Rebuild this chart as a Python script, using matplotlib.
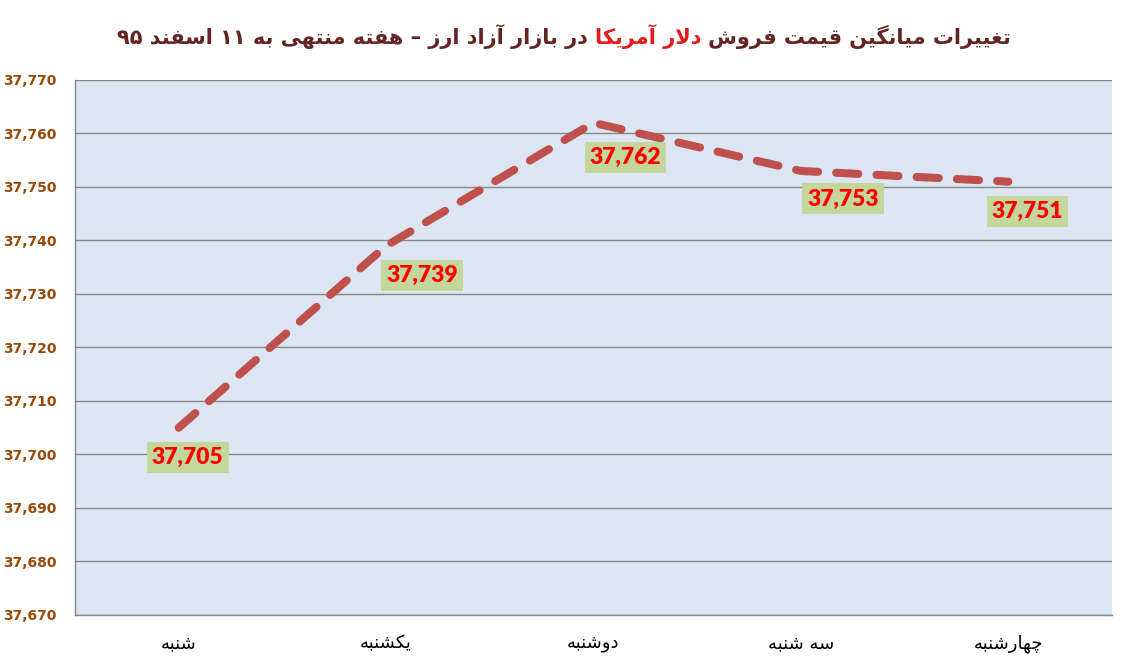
import matplotlib
matplotlib.use("Agg")
import matplotlib.pyplot as plt
from matplotlib.ticker import FuncFormatter, MultipleLocator
from matplotlib.offsetbox import TextArea, HPacker, AnchoredOffsetbox

# ── Données ───────────────────────────────────────────────────────────────────
days   = ["شنبه", "یکشنبه", "دوشنبه", "سه شنبه", "چهارشنبه"]
prices = [37705, 37739, 37762, 37753, 37751]

title_parts = ["تغییرات میانگین قیمت فروش",
               "دلار آمریکا",
               "در بازار آزاد ارز – هفته منتهی به ۱۱ اسفند ۹۵"]

# décalage des étiquettes (pixels, vers la droite / vers le bas)
label_offsets = [(9, 30), (36, 30), (32, 35), (42, 28), (19, 30)]

# ── Mise en forme arabe/persane minimale (formes contextuelles + ordre visuel) ─
FORMS = {
    'ا': ('\uFE8D', '\uFE8E'), 'آ': ('\uFE81', '\uFE82'),
    'د': ('\uFEA9', '\uFEAA'), 'ر': ('\uFEAD', '\uFEAE'),
    'ز': ('\uFEAF', '\uFEB0'), 'و': ('\uFEED', '\uFEEE'),
    'ب': ('\uFE8F', '\uFE90', '\uFE91', '\uFE92'),
    'ت': ('\uFE95', '\uFE96', '\uFE97', '\uFE98'),
    'چ': ('\uFB7A', '\uFB7B', '\uFB7C', '\uFB7D'),
    'س': ('\uFEB1', '\uFEB2', '\uFEB3', '\uFEB4'),
    'ش': ('\uFEB5', '\uFEB6', '\uFEB7', '\uFEB8'),
    'غ': ('\uFECD', '\uFECE', '\uFECF', '\uFED0'),
    'ف': ('\uFED1', '\uFED2', '\uFED3', '\uFED4'),
    'ق': ('\uFED5', '\uFED6', '\uFED7', '\uFED8'),
    'ک': ('\uFB8E', '\uFB8F', '\uFB90', '\uFB91'),
    'گ': ('\uFB92', '\uFB93', '\uFB94', '\uFB95'),
    'ل': ('\uFEDD', '\uFEDE', '\uFEDF', '\uFEE0'),
    'م': ('\uFEE1', '\uFEE2', '\uFEE3', '\uFEE4'),
    'ن': ('\uFEE5', '\uFEE6', '\uFEE7', '\uFEE8'),
    'ه': ('\uFEE9', '\uFEEA', '\uFEEB', '\uFEEC'),
    'ی': ('\uFBFC', '\uFBFD', '\uFBFE', '\uFBFF'),
}
LAM_ALEF = {'ا': ('\uFEFB', '\uFEFC'), 'آ': ('\uFEF5', '\uFEF6')}


def dual(c):
    return c in FORMS and len(FORMS[c]) == 4


def shape_word(w):
    out = []
    i = 0
    while i < len(w):
        c = w[i]
        prev = i > 0 and dual(w[i - 1])
        if c == 'ل' and i + 1 < len(w) and w[i + 1] in LAM_ALEF:
            iso, fin = LAM_ALEF[w[i + 1]]
            out.append(fin if prev else iso)
            i += 2
            continue
        if c not in FORMS:
            out.append(c)
            i += 1
            continue
        f = FORMS[c]
        nxt = dual(c) and i + 1 < len(w) and w[i + 1] in FORMS
        if prev and nxt:
            out.append(f[3])
        elif prev:
            out.append(f[1])
        elif nxt:
            out.append(f[2])
        else:
            out.append(f[0])
        i += 1
    return ''.join(out)


def rtl(text):
    vis = []
    for w in text.split(' '):
        if any(ch in FORMS for ch in w):
            vis.append(shape_word(w)[::-1])
        else:
            vis.append(w)
    return ' '.join(vis[::-1])


# ── Figure ────────────────────────────────────────────────────────────────────
fig = plt.figure(figsize=(11.28, 6.67), dpi=100)
ax = fig.add_axes([75 / 1128, 52 / 667, 1037 / 1128, 535 / 667])
ax.set_facecolor('#DCE6F2')

x = list(range(len(days)))
ax.plot(x, prices, color='#C0504D', linewidth=5.8,
        dashes=(2.75, 2.25), dash_capstyle='round', solid_capstyle='round',
        zorder=3)

for i, (v, (dx, dy)) in enumerate(zip(prices, label_offsets)):
    ax.annotate(f"{v:,}", xy=(i, v), xytext=(dx * 0.72, -dy * 0.72),
                textcoords='offset points', ha='center', va='center',
                fontsize=16.5, fontweight='heavy', color='#FF0000',
                family='Lato',
                bbox=dict(boxstyle='square,pad=0.22', fc='#C3D69B', ec='none'),
                zorder=4)

ax.set_xlim(-0.5, len(days) - 0.5)
ax.set_ylim(37670, 37770)
ax.yaxis.set_major_locator(MultipleLocator(10))
ax.yaxis.set_major_formatter(FuncFormatter(lambda v, p: f"{v:,.0f}"))
ax.grid(axis='y', color='#868686', linewidth=1.0)
ax.set_axisbelow(True)

ax.set_xticks(x)
ax.set_xticklabels([rtl(d) for d in days], fontsize=13, color='black',
                   family='DejaVu Sans')
ax.tick_params(axis='x', length=0, pad=14)
ax.tick_params(axis='y', length=0, pad=13, labelsize=10, labelcolor='#984807')
for lab in ax.get_yticklabels():
    lab.set_fontweight('bold')

for s in ['top', 'right']:
    ax.spines[s].set_visible(False)
for s in ['left', 'bottom']:
    ax.spines[s].set_color('#868686')
    ax.spines[s].set_linewidth(1.0)

# ── Titre bicolore (ordre visuel de gauche à droite) ──────────────────────────
maroon = '#632523'
red = '#E31C1C'
pieces = [(title_parts[2], maroon), (title_parts[1], red), (title_parts[0], maroon)]
areas = [TextArea(rtl(t), textprops=dict(color=c, fontsize=15, fontweight='bold',
                                         family='DejaVu Sans'))
         for t, c in pieces]
box = HPacker(children=areas, align='center', pad=0, sep=5)
anchored = AnchoredOffsetbox(loc='center', child=box, pad=0, borderpad=0,
                             frameon=False, bbox_to_anchor=(0.5, 1 - 37 / 667),
                             bbox_transform=fig.transFigure)
ax.add_artist(anchored)

plt.savefig('out.png', dpi=100)
plt.close()
